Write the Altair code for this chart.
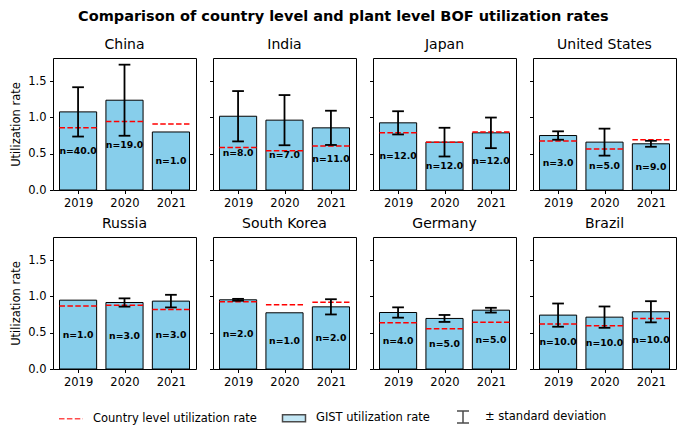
import altair as alt
import pandas as pd

countries = ["China", "India", "Japan", "United States",
             "Russia", "South Korea", "Germany", "Brazil"]
years = ["2019", "2020", "2021"]

# GIST (plant level) mean utilization rate per country, per year
gist_rate = [
    [1.077, 1.238, 0.800],
    [1.017, 0.963, 0.857],
    [0.926, 0.660, 0.788],
    [0.751, 0.660, 0.637],
    [0.949, 0.917, 0.936],
    [0.954, 0.775, 0.857],
    [0.779, 0.697, 0.811],
    [0.743, 0.715, 0.789],
]
# standard deviation (None where n = 1)
gist_std = [
    [0.340, 0.490, None],
    [0.347, 0.346, 0.236],
    [0.160, 0.198, 0.211],
    [0.058, 0.186, 0.041],
    [None, 0.057, 0.087],
    [0.013, None, 0.105],
    [0.071, 0.048, 0.033],
    [0.160, 0.147, 0.146],
]
# country level utilization rate
country_rate = [
    [0.860, 0.944, 0.910],
    [0.586, 0.540, 0.605],
    [0.788, 0.660, 0.800],
    [0.674, 0.564, 0.692],
    [0.867, 0.880, 0.820],
    [0.926, 0.885, 0.922],
    [0.637, 0.555, 0.646],
    [0.619, 0.596, 0.697],
]
# number of plants
n_plants = [
    [40, 19, 1],
    [8, 7, 11],
    [12, 12, 12],
    [3, 5, 9],
    [1, 3, 3],
    [2, 1, 2],
    [4, 5, 5],
    [10, 10, 10],
]
legend_items = ["Country level utilization rate", "GIST utilization rate",
                "\u00b1 standard deviation"]

rows = []
for ci, c in enumerate(countries):
    for yi, yr in enumerate(years):
        rows.append(dict(country=c, year=yr, idx=yi, gist=gist_rate[ci][yi],
                         sd=gist_std[ci][yi], crate=country_rate[ci][yi],
                         n=n_plants[ci][yi]))
df = pd.DataFrame(rows)

FONT = "DejaVu Sans"
label_expr = " : ".join(
    [f"datum.value == {i} ? '{y}'" for i, y in enumerate(years[:-1])]
) + f" : '{years[-1]}'"

xscale = alt.Scale(domain=[-0.54, 2.54], nice=False, zero=False)
yscale = alt.Scale(domain=[0, 1.82], nice=False)

dash_path = "M-1.2,0H-0.65M-0.41,0H0.14M0.38,0H0.93M1.17,0H1.2"
rect_path = "M-1.15,-0.35H1.15V0.35H-1.15Z"
err_path = "M-0.6,-0.6H0.6M0,-0.6V0.6M-0.6,0.6H0.6"

leg = alt.Legend(title=None, orient="none", legendX=7, legendY=348,
                 direction="horizontal", columns=3, symbolSize=400,
                 symbolStrokeWidth=1.5, labelFontSize=11.5, labelFont=FONT,
                 labelColor="black", labelOffset=11, columnPadding=22,
                 labelLimit=400)


def panel(c, first_col, with_legend):
    xaxis = alt.Axis(values=[0, 1, 2], labelExpr=label_expr, title=None,
                     grid=False, domain=False)
    if first_col:
        yaxis = alt.Axis(values=[0, 0.5, 1.0, 1.5], format=".1f", grid=False,
                         domain=False, title="Utilization rate")
    else:
        yaxis = alt.Axis(values=[0, 0.5, 1.0, 1.5], format=".1f", grid=False,
                         domain=False, labels=False, title=None)

    base = alt.Chart(df).transform_filter(
        alt.datum.country == c
    ).transform_calculate(
        x0="datum.idx - 0.4", x1="datum.idx + 0.4",
        c0="datum.idx - 0.126", c1="datum.idx + 0.126",
        half="datum.gist / 2",
        label="'n=' + format(datum.n, '.1f')",
    )
    X = lambda f: alt.X(f, scale=xscale, axis=xaxis)
    Y = lambda f: alt.Y(f, scale=yscale, axis=yaxis)

    bars = base.mark_bar(fill="#87CEEB", stroke="black", strokeWidth=1).encode(
        x=X("x0:Q"), x2="x1:Q", y=Y("gist:Q"), y2=alt.datum(0))
    red = base.mark_rule(stroke="#ff0000", strokeWidth=1.5,
                         strokeDash=[5.5, 2.4]).encode(
        x=X("x0:Q"), x2="x1:Q", y=Y("crate:Q"))
    errb = base.transform_filter("isValid(datum.sd)").transform_calculate(
        lo="datum.gist - datum.sd", hi="datum.gist + datum.sd")
    stem = errb.mark_rule(stroke="black", strokeWidth=1.8).encode(
        x=X("idx:Q"), y=Y("lo:Q"), y2="hi:Q")
    cap_lo = errb.mark_rule(stroke="black", strokeWidth=1.8).encode(
        x=X("c0:Q"), x2="c1:Q", y=Y("lo:Q"))
    cap_hi = errb.mark_rule(stroke="black", strokeWidth=1.8).encode(
        x=X("c0:Q"), x2="c1:Q", y=Y("hi:Q"))
    text = base.mark_text(font=FONT, fontSize=9.3, fontWeight="bold",
                          color="black", baseline="middle").encode(
        x=X("idx:Q"), y=Y("half:Q"), text="label:N")
    layers = [bars, red, stem, cap_lo, cap_hi, text]
    if with_legend:
        ldf = pd.DataFrame({"item": legend_items})
        hidden = alt.Chart(ldf).transform_filter("false").mark_point(
            filled=True, strokeWidth=1.5).encode(
            shape=alt.Shape("item:N", scale=alt.Scale(
                domain=legend_items, range=[dash_path, rect_path, err_path]),
                legend=leg),
            fill=alt.Fill("item:N", scale=alt.Scale(
                domain=legend_items,
                range=["transparent", "#87CEEB", "transparent"]), legend=leg),
            stroke=alt.Stroke("item:N", scale=alt.Scale(
                domain=legend_items, range=["#ff0000", "black", "black"]),
                legend=leg),
        )
        layers.append(hidden)
    return alt.layer(*layers).properties(
        width=143, height=132,
        title=alt.Title(c, fontSize=14, fontWeight="normal", offset=6,
                        font=FONT, color="black"))


panels = [panel(c, i % 4 == 0, i == 0) for i, c in enumerate(countries)]

chart = alt.concat(*panels, columns=4, spacing={"row": 47, "column": 17},
                   bounds="flush").properties(
    title=alt.Title("Comparison of country level and plant level BOF utilization rates",
                    fontSize=14.5, fontWeight="bold", font=FONT, color="black",
                    anchor="middle", offset=13),
    padding={"left": 10, "top": 9, "right": 5, "bottom": 0},
).configure_view(
    stroke="black", strokeWidth=1
).configure_axis(
    labelFont=FONT, labelFontSize=11.5, labelColor="black",
    tickSize=3.5, tickColor="black", tickWidth=1, labelPadding=3.5,
    titleFont=FONT, titleFontSize=11.5, titleFontWeight="normal",
    titleColor="black", titlePadding=6,
).configure_title(font=FONT)

chart.save("out.html", embed_options={"renderer": "svg", "actions": False})
